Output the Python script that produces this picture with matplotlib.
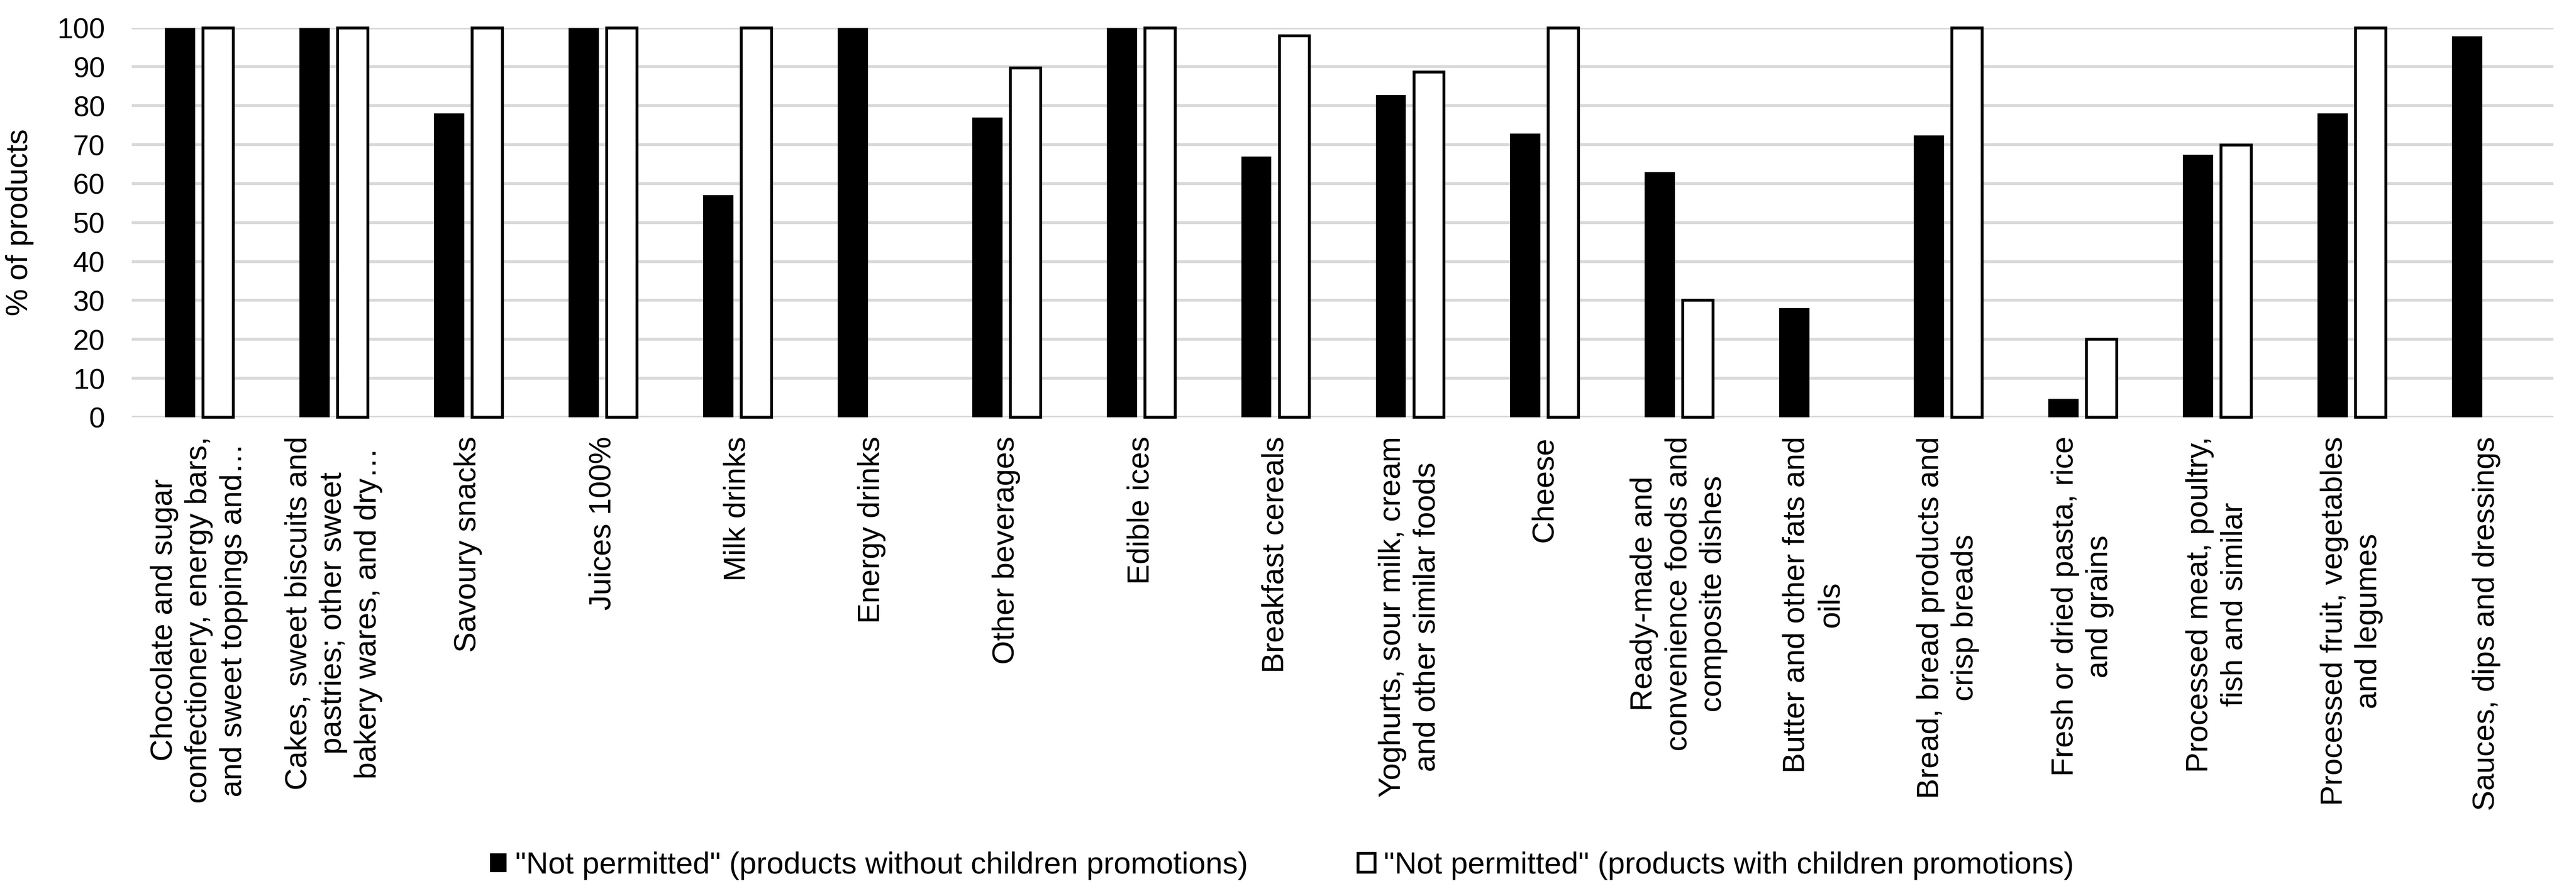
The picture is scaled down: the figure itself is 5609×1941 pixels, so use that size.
import numpy as np
import matplotlib
matplotlib.use("Agg")
import matplotlib.pyplot as plt
from matplotlib.patches import Patch

plt.rcParams['font.family'] = ['Liberation Sans', 'DejaVu Sans']

categories = [
    "Chocolate and sugar\nconfectionery, energy bars,\nand sweet toppings and…",
    "Cakes, sweet biscuits and\npastries; other sweet\nbakery wares, and dry…",
    "Savoury snacks",
    "Juices 100%",
    "Milk drinks",
    "Energy drinks",
    "Other beverages",
    "Edible ices",
    "Breakfast cereals",
    "Yoghurts, sour milk, cream\nand other similar foods",
    "Cheese",
    "Ready-made and\nconvenience foods and\ncomposite dishes",
    "Butter and other fats and\noils",
    "Bread, bread products and\ncrisp breads",
    "Fresh or dried pasta, rice\nand grains",
    "Processed meat, poultry,\nfish and similar",
    "Processed fruit, vegetables\nand legumes",
    "Sauces, dips and dressings",
]
without_promo = [100, 100, 78, 100, 57, 100, 77, 100, 67, 82.8, 72.8, 63, 28, 72.4, 4.7, 67.4, 78, 97.8]
with_promo = [100, 100, 100, 100, 100, np.nan, 89.7, 100, 98, 88.6, 100, 30, np.nan, 100, 20, 69.9, 100, np.nan]
yticks = list(range(0, 101, 10))
legend_labels = ['"Not permitted" (products without children promotions)',
                 '"Not permitted" (products with children promotions)']

W, H, DPI = 5609, 1941, 300
fig = plt.figure(figsize=(W / DPI, H / DPI), dpi=DPI)
ax = fig.add_axes([287 / W, 1 - 909 / H, (5560 - 287) / W, (909 - 60.6) / H])

x = np.arange(len(categories))
bw = 0.225
off = 0.1417
ax.bar(x - off, without_promo, width=bw, color='black', edgecolor='none', zorder=3, clip_on=False)
ax.bar(x + off, with_promo, width=bw, color='white', edgecolor='black', linewidth=1.5, zorder=3, clip_on=False)

ax.set_xlim(-0.5, len(categories) - 0.5)
ax.set_ylim(0, 100)
ax.set_yticks(yticks)
ax.yaxis.grid(True, color='#D9D9D9', linewidth=1.5, zorder=0)
ax.set_axisbelow(True)
for s in ax.spines.values():
    s.set_visible(False)
ax.tick_params(axis='y', length=0, pad=14, labelsize=15)
ax.tick_params(axis='x', length=0, pad=10)
ax.set_xticks(x)
ax.set_xticklabels(categories, rotation=90, ha='center', va='top',
                   multialignment='center', fontsize=16, linespacing=1.28)
ax.set_ylabel('% of products', fontsize=16, labelpad=12)

handles = [Patch(facecolor='black', edgecolor='black', linewidth=0),
           Patch(facecolor='white', edgecolor='black', linewidth=1.5)]
fig.legend(handles, legend_labels, loc='center', bbox_to_anchor=(2791 / W, 1 - 1886 / H),
           ncol=2, frameon=False, fontsize=16, handlelength=0.55, handleheight=0.55,
           handletextpad=0.28, columnspacing=3.6)

fig.savefig('out.png', dpi=DPI)
